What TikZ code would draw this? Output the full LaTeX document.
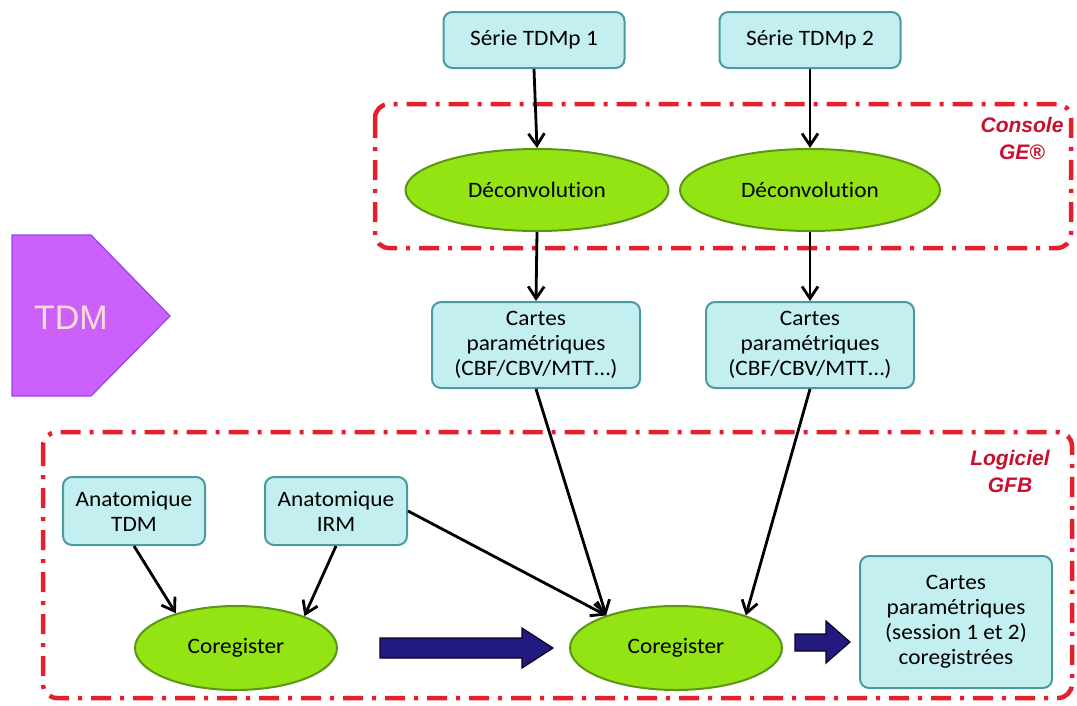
\documentclass[tikz,border=0pt]{standalone}
\usepackage{fontspec}
\setmainfont{Carlito}[FakeStretch=1.06, Ligatures=NoCommon]
\newfontfamily\arialfont{Liberation Sans}
\usetikzlibrary{arrows.meta,shapes.geometric}

\definecolor{boxfill}{HTML}{C4EFF0}
\definecolor{boxline}{HTML}{4A9AA2}
\definecolor{ellfill}{HTML}{94E414}
\definecolor{ellline}{HTML}{5A9616}
\definecolor{zonered}{HTML}{E4202C}
\definecolor{labelred}{HTML}{C8102E}
\definecolor{navy}{HTML}{221A80}
\definecolor{tdmpink}{HTML}{CC60FA}

\begin{document}
\begin{tikzpicture}[
x=1pt, y=-1pt,
font=\fontsize{22}{25}\selectfont,
databox/.style={draw=boxline, line width=2pt, fill=boxfill, rounded corners=9pt, align=center, inner sep=0pt, minimum width=#1},
process/.style={ellipse, draw=ellline, line width=2pt, fill=ellfill, inner sep=0pt, minimum width=#1, minimum height=82pt},
zone/.style={draw=zonered, line width=4.5pt, rounded corners=14pt, dash pattern=on 20pt off 9pt on 4pt off 9pt},
zonelabel/.style={text=labelred, align=center, font=\arialfont\bfseries\itshape\fontsize{21}{27}\selectfont},
flow/.style={-{Straight Barb[length=12pt,width=16pt,line width=2.8pt]}, line width=2.8pt, black},
fatarrow/.style={draw=black!80!navy, line width=1.2pt, fill=navy}
]
\useasboundingbox (0,0) rectangle (1077,705);

% --- Zones ---
\draw[zone] (375,104) rectangle (1071,248);
\draw[zone] (43,432) rectangle (1072,698);
\node[zonelabel] (console) at (1022,138) {Console\\GE®};
\node[zonelabel] (logiciel) at (1010,471) {Logiciel\\GFB};

% --- TDM ---
\draw[fill=tdmpink, draw=tdmpink!70!blue, line width=1.2pt] (12,235) -- (91,235) -- (170,316) -- (91,396) -- (12,396) -- cycle;
\node[text=pink!55!white, font=\arialfont\fontsize{34}{34}\selectfont] (tdm) at (71,318) {TDM};

% --- Sessions ---
\node[databox=181pt, minimum height=56pt] (s1) at (534,40) {Série TDMp 1};
\node[databox=181pt, minimum height=56pt] (s2) at (810,40) {Série TDMp 2};

\node[process=263pt] (d1) at (537,190) {Déconvolution};
\node[process=260pt] (d2) at (810,190) {Déconvolution};

\node[databox=208pt, minimum height=86pt] (c1) at (536,345) {Cartes\\paramétriques\\(CBF/CBV/MTT…)};
\node[databox=208pt, minimum height=86pt] (c2) at (810,345) {Cartes\\paramétriques\\(CBF/CBV/MTT…)};

% --- Anatomie ---
\node[databox=142pt, minimum height=68pt] (a1) at (134,511) {Anatomique\\TDM};
\node[databox=142pt, minimum height=68pt] (a2) at (336,511) {Anatomique\\IRM};

\node[process=202pt, minimum height=84pt] (r1) at (236,648) {Coregister};
\node[process=212pt, minimum height=84pt] (r2) at (676,648) {Coregister};

\node[databox=192pt, minimum height=132pt] (fin) at (956,622) {Cartes\\paramétriques\\(session 1 et 2)\\coregistrées};

% --- Connecteurs ---
\draw[flow] (s1.south) -- (d1.north);
\draw[flow] (s2.south) -- (d2.north);
\draw[flow] (d1.south) -- (c1.north);
\draw[flow] (d2.south) -- (c2.north);
\draw[flow] (c1.south) -- (r2.155);
\draw[flow] (c2.south) -- (r2.25);
\draw[flow] (a2.east) -- (r2.155);
\draw[flow] (a1.south) -- (r1.150);
\draw[flow] (a2.south) -- (r1.25);

% --- Grosses flèches ---
\draw[fatarrow] (380,638) -- (522,638) -- (522,628) -- (553,648) -- (522,668) -- (522,658) -- (380,658) -- cycle;
\draw[fatarrow] (795,634) -- (826,634) -- (826,621) -- (850,642) -- (826,663) -- (826,651) -- (795,651) -- cycle;

\end{tikzpicture}
\end{document}
